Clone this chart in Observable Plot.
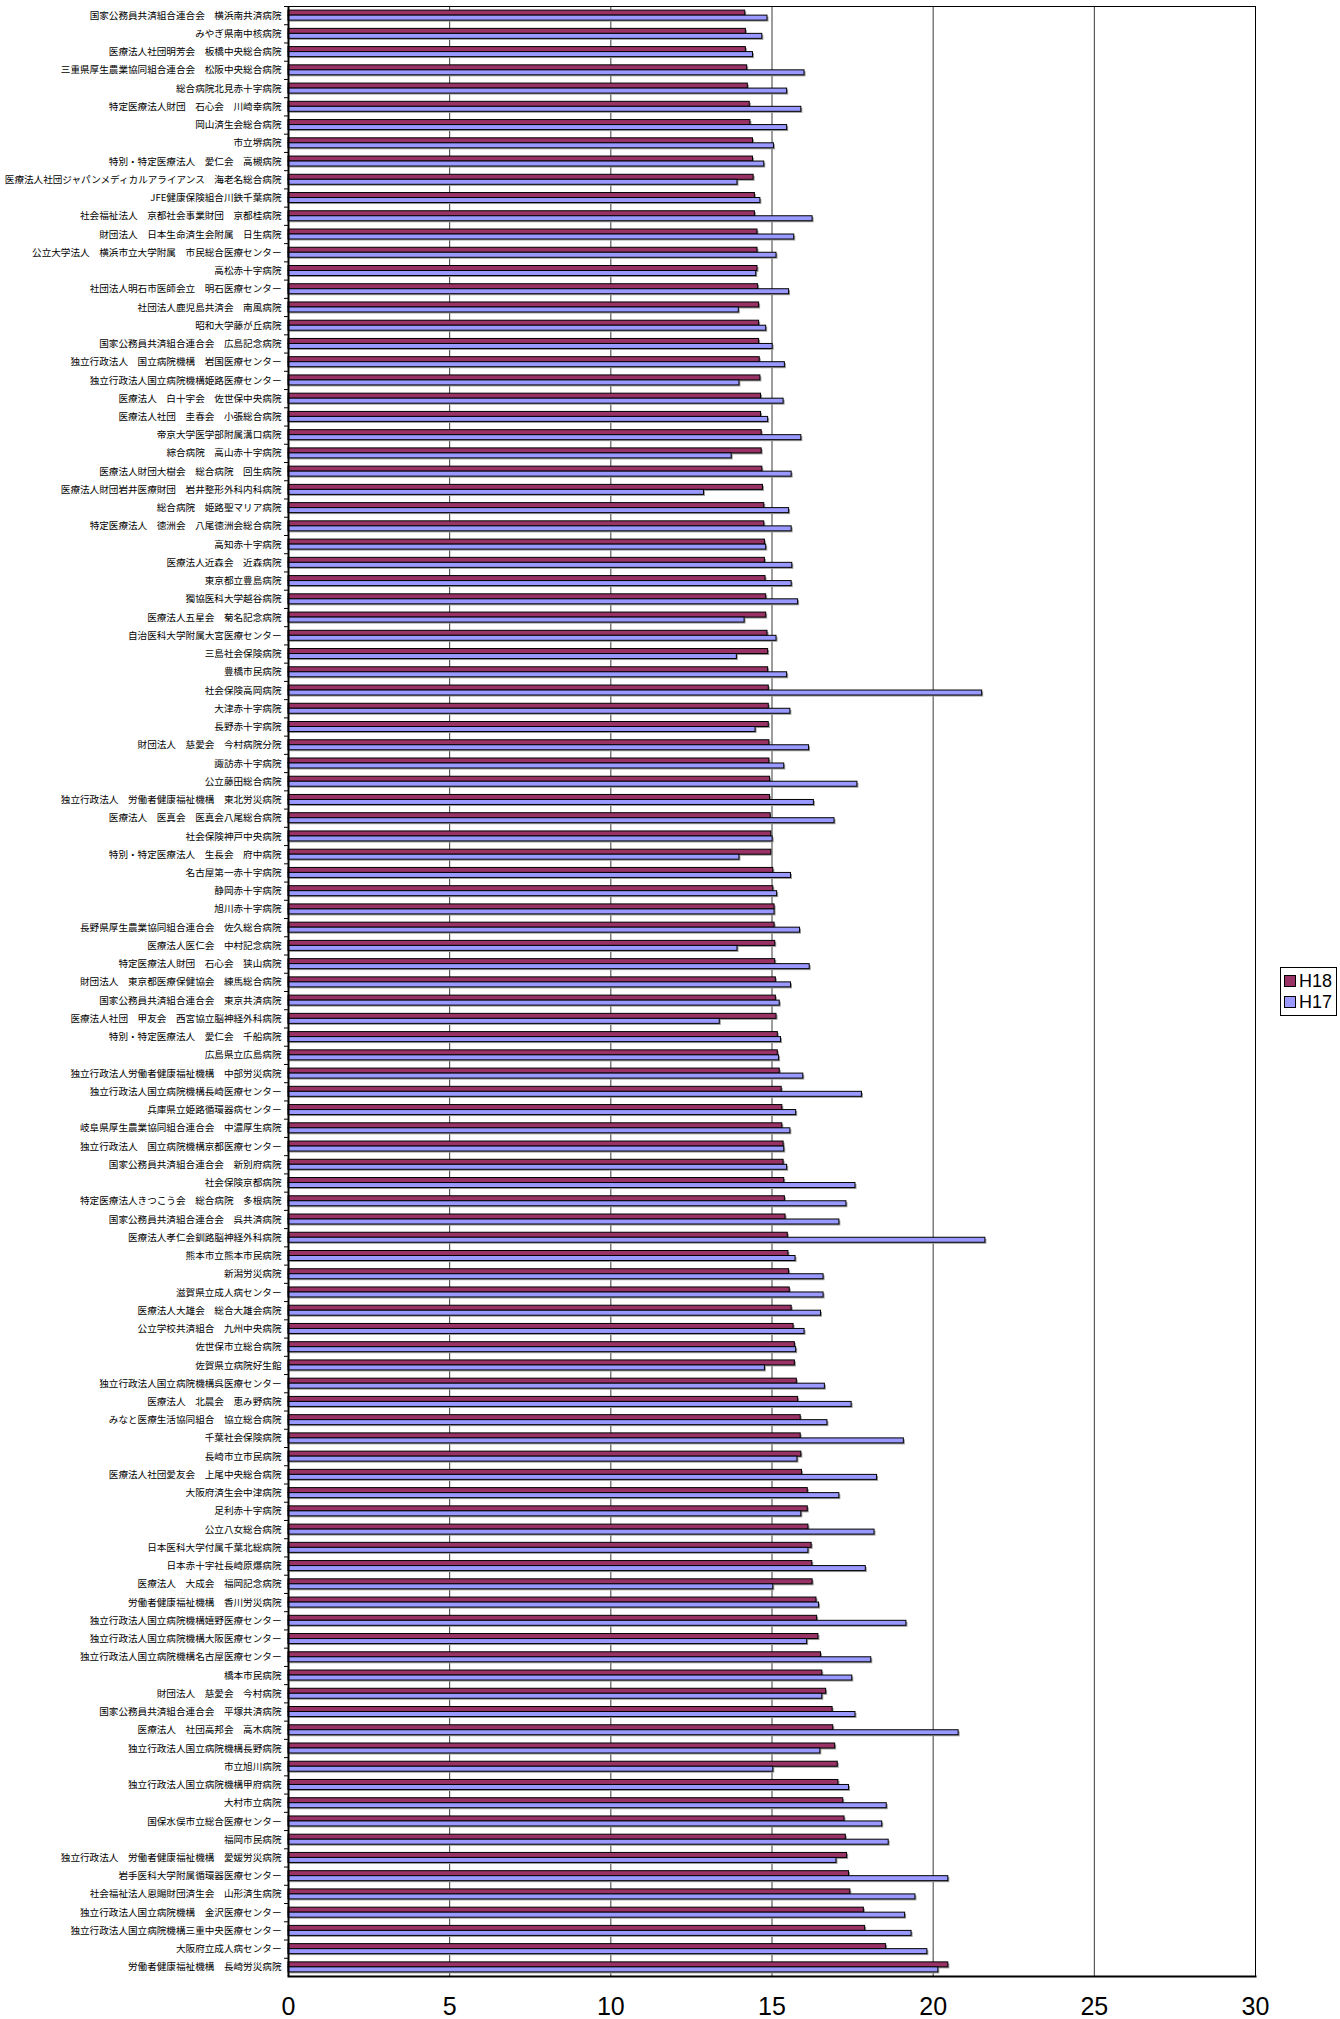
<!DOCTYPE html>
<html>
<head>
<meta charset="utf-8">
<script src="https://cdn.jsdelivr.net/npm/d3@7"></script>
<script src="https://cdn.jsdelivr.net/npm/@observablehq/plot@0.6"></script>
<style>
  html, body { margin: 0; padding: 0; background: #fff; }
  #wrap { position: relative; width: 1340px; height: 2019px; overflow: hidden; }
  #legend { position: absolute; left: 1280px; top: 967px; width: 57px; height: 49px; box-sizing: border-box;
    border: 1px solid #000; background: #fff; font-family: "Liberation Sans", Arial, sans-serif; font-size: 18px; color: #000; }
  .item { position: absolute; left: 3px; display: flex; align-items: center; height: 20px; }
  .sw { width: 10px; height: 10px; border: 1px solid #000; margin-right: 3px; }
</style>
</head>
<body>
<div id="wrap">
  <div id="chart"></div>
  <div id="legend"></div>
</div>
<script>
const categories = [
  "国家公務員共済組合連合会　横浜南共済病院",
  "みやぎ県南中核病院",
  "医療法人社団明芳会　板橋中央総合病院",
  "三重県厚生農業協同組合連合会　松阪中央総合病院",
  "総合病院北見赤十字病院",
  "特定医療法人財団　石心会　川崎幸病院",
  "岡山済生会総合病院",
  "市立堺病院",
  "特別・特定医療法人　愛仁会　高槻病院",
  "医療法人社団ジャパンメディカルアライアンス　海老名総合病院",
  "JFE健康保険組合川鉄千葉病院",
  "社会福祉法人　京都社会事業財団　京都桂病院",
  "財団法人　日本生命済生会附属　日生病院",
  "公立大学法人　横浜市立大学附属　市民総合医療センター",
  "高松赤十字病院",
  "社団法人明石市医師会立　明石医療センター",
  "社団法人鹿児島共済会　南風病院",
  "昭和大学藤が丘病院",
  "国家公務員共済組合連合会　広島記念病院",
  "独立行政法人　国立病院機構　岩国医療センター",
  "独立行政法人国立病院機構姫路医療センター",
  "医療法人　白十字会　佐世保中央病院",
  "医療法人社団　圭春会　小張総合病院",
  "帝京大学医学部附属溝口病院",
  "綜合病院　高山赤十字病院",
  "医療法人財団大樹会　総合病院　回生病院",
  "医療法人財団岩井医療財団　岩井整形外科内科病院",
  "総合病院　姫路聖マリア病院",
  "特定医療法人　徳洲会　八尾徳洲会総合病院",
  "高知赤十字病院",
  "医療法人近森会　近森病院",
  "東京都立豊島病院",
  "獨協医科大学越谷病院",
  "医療法人五星会　菊名記念病院",
  "自治医科大学附属大宮医療センター",
  "三島社会保険病院",
  "豊橋市民病院",
  "社会保険高岡病院",
  "大津赤十字病院",
  "長野赤十字病院",
  "財団法人　慈愛会　今村病院分院",
  "諏訪赤十字病院",
  "公立藤田総合病院",
  "独立行政法人　労働者健康福祉機構　東北労災病院",
  "医療法人　医真会　医真会八尾総合病院",
  "社会保険神戸中央病院",
  "特別・特定医療法人　生長会　府中病院",
  "名古屋第一赤十字病院",
  "静岡赤十字病院",
  "旭川赤十字病院",
  "長野県厚生農業協同組合連合会　佐久総合病院",
  "医療法人医仁会　中村記念病院",
  "特定医療法人財団　石心会　狭山病院",
  "財団法人　東京都医療保健協会　練馬総合病院",
  "国家公務員共済組合連合会　東京共済病院",
  "医療法人社団　甲友会　西宮協立脳神経外科病院",
  "特別・特定医療法人　愛仁会　千船病院",
  "広島県立広島病院",
  "独立行政法人労働者健康福祉機構　中部労災病院",
  "独立行政法人国立病院機構長崎医療センター",
  "兵庫県立姫路循環器病センター",
  "岐阜県厚生農業協同組合連合会　中濃厚生病院",
  "独立行政法人　国立病院機構京都医療センター",
  "国家公務員共済組合連合会　新別府病院",
  "社会保険京都病院",
  "特定医療法人きつこう会　総合病院　多根病院",
  "国家公務員共済組合連合会　呉共済病院",
  "医療法人孝仁会釧路脳神経外科病院",
  "熊本市立熊本市民病院",
  "新潟労災病院",
  "滋賀県立成人病センター",
  "医療法人大雄会　総合大雄会病院",
  "公立学校共済組合　九州中央病院",
  "佐世保市立総合病院",
  "佐賀県立病院好生館",
  "独立行政法人国立病院機構呉医療センター",
  "医療法人　北晨会　恵み野病院",
  "みなと医療生活協同組合　協立総合病院",
  "千葉社会保険病院",
  "長崎市立市民病院",
  "医療法人社団愛友会　上尾中央総合病院",
  "大阪府済生会中津病院",
  "足利赤十字病院",
  "公立八女総合病院",
  "日本医科大学付属千葉北総病院",
  "日本赤十字社長崎原爆病院",
  "医療法人　大成会　福岡記念病院",
  "労働者健康福祉機構　香川労災病院",
  "独立行政法人国立病院機構嬉野医療センター",
  "独立行政法人国立病院機構大阪医療センター",
  "独立行政法人国立病院機構名古屋医療センター",
  "橋本市民病院",
  "財団法人　慈愛会　今村病院",
  "国家公務員共済組合連合会　平塚共済病院",
  "医療法人　社団高邦会　高木病院",
  "独立行政法人国立病院機構長野病院",
  "市立旭川病院",
  "独立行政法人国立病院機構甲府病院",
  "大村市立病院",
  "国保水俣市立総合医療センター",
  "福岡市民病院",
  "独立行政法人　労働者健康福祉機構　愛媛労災病院",
  "岩手医科大学附属循環器医療センター",
  "社会福祉法人恩賜財団済生会　山形済生病院",
  "独立行政法人国立病院機構　金沢医療センター",
  "独立行政法人国立病院機構三重中央医療センター",
  "大阪府立成人病センター",
  "労働者健康福祉機構　長崎労災病院"
];

const h18 = [
  14.17, 14.19, 14.19, 14.23, 14.25, 14.31, 14.33, 14.41, 14.41, 14.43, 14.47,
  14.47, 14.55, 14.55, 14.55, 14.57, 14.60, 14.60, 14.60, 14.62, 14.64, 14.66,
  14.66, 14.68, 14.68, 14.70, 14.72, 14.76, 14.76, 14.78, 14.78, 14.80, 14.82,
  14.82, 14.86, 14.88, 14.88, 14.90, 14.90, 14.90, 14.92, 14.92, 14.94, 14.94,
  14.96, 14.98, 14.98, 15.04, 15.04, 15.08, 15.08, 15.10, 15.10, 15.12, 15.12,
  15.14, 15.18, 15.18, 15.24, 15.30, 15.32, 15.32, 15.36, 15.36, 15.38, 15.40,
  15.42, 15.49, 15.51, 15.53, 15.55, 15.61, 15.67, 15.71, 15.71, 15.77, 15.81,
  15.89, 15.89, 15.91, 15.93, 16.11, 16.11, 16.13, 16.23, 16.25, 16.26, 16.38,
  16.40, 16.44, 16.52, 16.56, 16.68, 16.88, 16.90, 16.96, 17.04, 17.06, 17.21,
  17.25, 17.29, 17.33, 17.39, 17.43, 17.85, 17.89, 18.54, 20.47
];

const h17 = [
  14.86, 14.70, 14.41, 16.01, 15.47, 15.91, 15.47, 15.06, 14.76, 13.93, 14.64,
  16.26, 15.69, 15.14, 14.51, 15.53, 13.97, 14.82, 15.02, 15.40, 13.99, 15.36,
  14.88, 15.91, 13.75, 15.61, 12.89, 15.53, 15.61, 14.82, 15.63, 15.61, 15.81,
  14.15, 15.14, 13.91, 15.47, 21.52, 15.57, 14.49, 16.15, 15.38, 17.65, 16.30,
  16.94, 15.02, 13.99, 15.59, 15.16, 15.08, 15.87, 13.93, 16.17, 15.59, 15.24,
  13.38, 15.28, 15.22, 15.97, 17.79, 15.75, 15.57, 15.38, 15.47, 17.59, 17.31,
  17.09, 21.62, 15.73, 16.60, 16.60, 16.52, 16.01, 15.75, 14.78, 16.64, 17.47,
  16.72, 19.09, 15.79, 18.26, 17.09, 15.91, 18.18, 16.13, 17.91, 15.04, 16.46,
  19.17, 16.09, 18.08, 17.49, 16.56, 17.59, 20.79, 16.50, 15.04, 17.39, 18.56,
  18.42, 18.62, 17.00, 20.47, 19.45, 19.13, 19.33, 19.82, 20.16
];

const seriesNames = ["H18", "H17"];
const seriesColors = ["#993366", "#9999FF"];
const xTicks = [0, 5, 10, 15, 20, 25, 30];
const gridTicks = [5, 10, 15, 20, 25];

const data = categories.map((name, i) => ({name, h18: h18[i], h17: h17[i]}));

const W = 1340, H = 2019;
const mTop = 6, mBottom = 43, mLeft = 288, mRight = 85;
const bw = (H - mTop - mBottom) / categories.length;
const barH = 5;

const chart = Plot.plot({
  width: W,
  height: H,
  marginTop: mTop,
  marginBottom: mBottom,
  marginLeft: mLeft,
  marginRight: mRight,
  style: {fontFamily: "'Noto Sans CJK JP', sans-serif", background: "#fff", color: "#000"},
  x: {domain: [0, 30], axis: null},
  y: {domain: categories, padding: 0, round: false, axis: null},
  marks: [
    Plot.gridX({ticks: gridTicks, stroke: "#3a3a3a", strokeOpacity: 1}),
    // shadows
    Plot.barX(data, {y: "name", x: "h18", fill: "#9a9a9a", insetTop: bw / 2 - barH, insetBottom: bw / 2, dx: 1.5, dy: 1.5}),
    Plot.barX(data, {y: "name", x: "h17", fill: "#9a9a9a", insetTop: bw / 2, insetBottom: bw / 2 - barH, dx: 1.5, dy: 1.5}),
    // bars
    Plot.barX(data, {y: "name", x: "h18", fill: seriesColors[0], stroke: "#000", strokeWidth: 1, insetTop: bw / 2 - barH, insetBottom: bw / 2}),
    Plot.barX(data, {y: "name", x: "h17", fill: seriesColors[1], stroke: "#000", strokeWidth: 1, insetTop: bw / 2, insetBottom: bw / 2 - barH}),
    // y labels
    Plot.axisY({tickSize: 0, tickPadding: 7, fontSize: 9.6, label: null, fill: "#000"}),
    // boundary ticks
    Plot.axisY({tickSize: 4, tickFormat: () => "", dy: -bw / 2, label: null, stroke: "#000"}),
    // x labels
    Plot.axisX({ticks: xTicks, tickSize: 0, tickPadding: 21, fontSize: 25, label: null,
      fontFamily: "'Liberation Sans', Arial, sans-serif", fill: "#000"}),
    Plot.frame({stroke: "#000", strokeWidth: 1}),
    Plot.ruleX([0], {stroke: "#000", strokeWidth: 2}),
    Plot.frame({anchor: "bottom", stroke: "#000", strokeWidth: 2})
  ]
});

document.getElementById("chart").appendChild(chart);

const legend = document.getElementById("legend");
seriesNames.forEach((s, i) => {
  const item = document.createElement("div");
  item.className = "item";
  item.style.top = (3 + i * 21) + "px";
  const sw = document.createElement("div");
  sw.className = "sw";
  sw.style.background = seriesColors[i];
  const t = document.createElement("span");
  t.textContent = s;
  item.appendChild(sw);
  item.appendChild(t);
  legend.appendChild(item);
});
</script>
</body>
</html>
